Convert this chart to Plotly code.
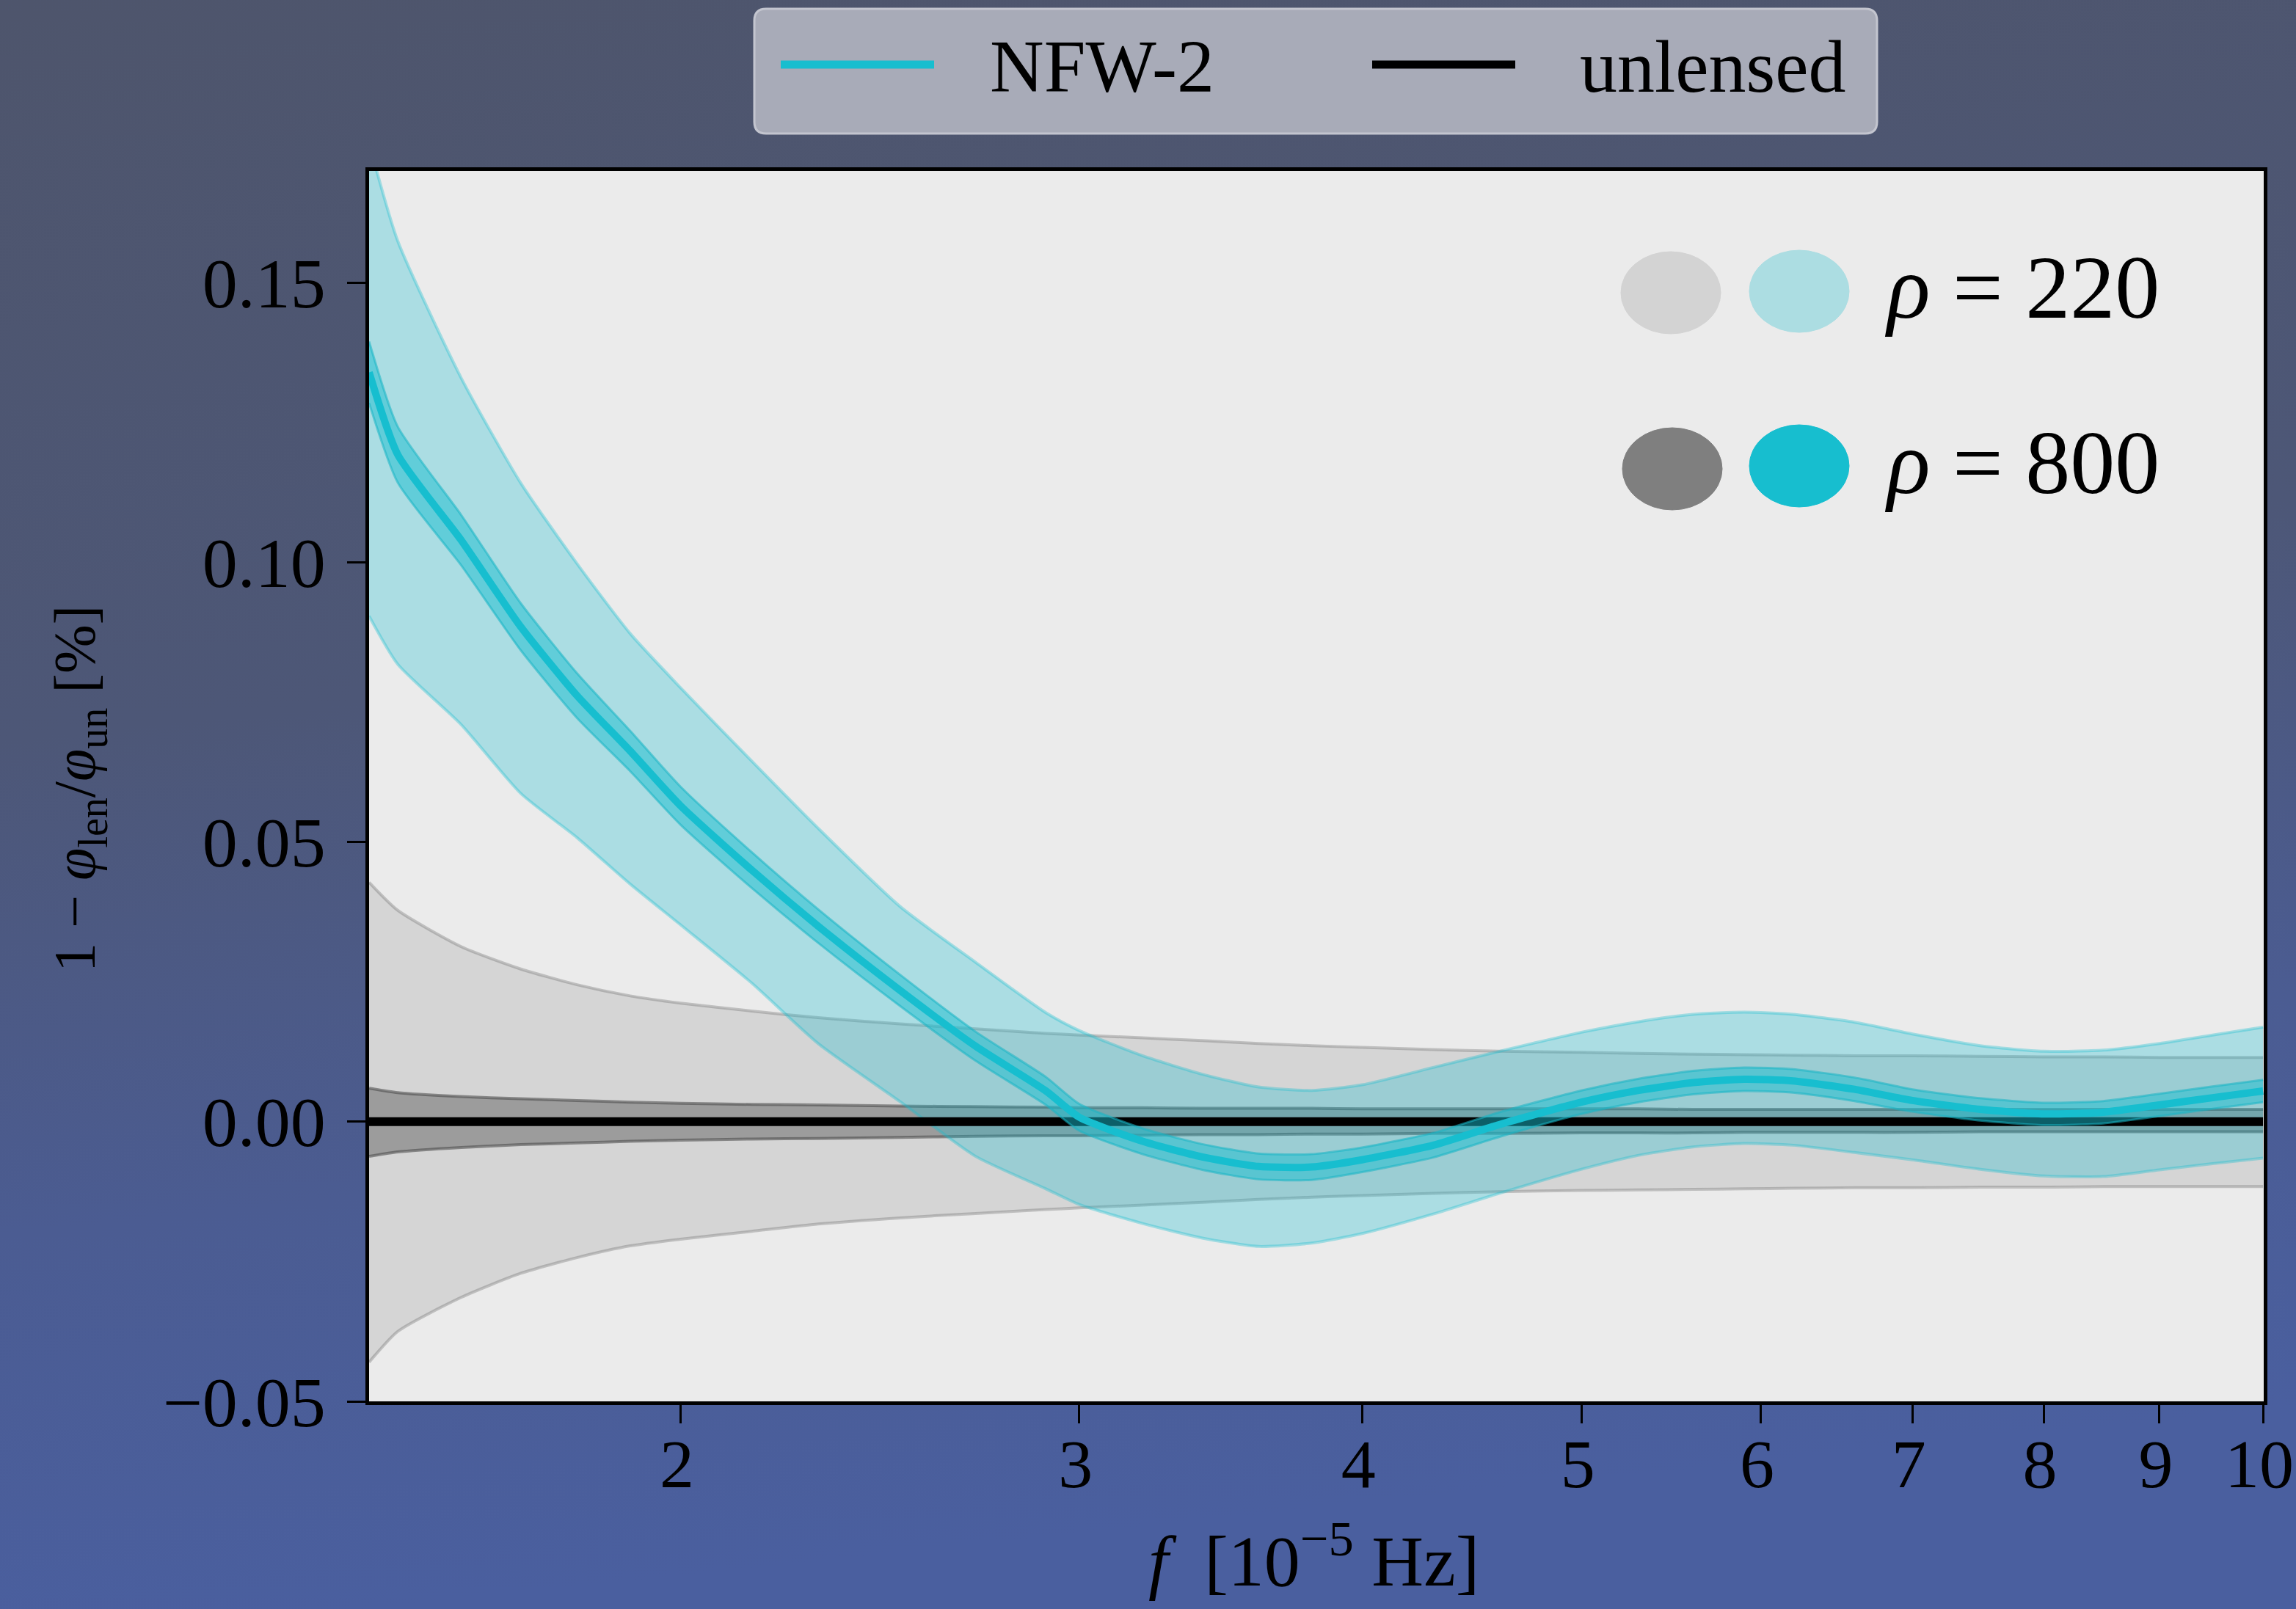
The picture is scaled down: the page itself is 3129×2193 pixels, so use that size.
import base64
import plotly.graph_objects as go

# ---------------- data ----------------
freq = [1.457, 1.5, 1.6, 1.7, 1.8, 1.9, 2.0, 2.15, 2.3, 2.5, 2.7, 2.9, 3.0, 3.2, 3.4, 3.6, 3.8,
        4.0, 4.3, 4.6, 5.0, 5.3, 5.6, 5.9, 6.2, 6.6, 7.0, 7.5, 8.0, 8.5, 9.0, 9.5, 10.0]

nfw_median = [0.1340, 0.1193, 0.1040, 0.0885, 0.0762, 0.0663, 0.0565, 0.0450, 0.0350, 0.0235,
              0.0135, 0.0055, 0.0008, -0.0035, -0.0063, -0.0080, -0.0081, -0.0068, -0.0042,
              -0.0005, 0.0035, 0.0056, 0.0070, 0.0076, 0.0073, 0.0058, 0.0038, 0.0022, 0.0014,
              0.0017, 0.0030, 0.0043, 0.0055]

nfw_800_upper = [0.1395, 0.1243, 0.1085, 0.0927, 0.0802, 0.0699, 0.0599, 0.0482, 0.0380, 0.0263,
                 0.0161, 0.0080, 0.0032, -0.0012, -0.0040, -0.0057, -0.0058, -0.0046, -0.0020,
                 0.0017, 0.0056, 0.0077, 0.0091, 0.0097, 0.0094, 0.0079, 0.0058, 0.0042, 0.0034,
                 0.0037, 0.0050, 0.0063, 0.0075]
nfw_800_lower = [0.1285, 0.1143, 0.0995, 0.0843, 0.0722, 0.0627, 0.0531, 0.0418, 0.0320, 0.0207,
                 0.0109, 0.0030, -0.0016, -0.0058, -0.0086, -0.0103, -0.0104, -0.0090, -0.0064,
                 -0.0027, 0.0014, 0.0035, 0.0049, 0.0055, 0.0052, 0.0037, 0.0018, 0.0002, -0.0006,
                 -0.0003, 0.0010, 0.0023, 0.0035]

nfw_220_upper = [0.1750, 0.1575, 0.1330, 0.1142, 0.0998, 0.0873, 0.0776, 0.0645, 0.0525, 0.0385,
                 0.0285, 0.0195, 0.0163, 0.0118, 0.0085, 0.0062, 0.0056, 0.0066, 0.0097, 0.0126,
                 0.0160, 0.0179, 0.0192, 0.0196, 0.0192, 0.0178, 0.0157, 0.0136, 0.0126, 0.0128,
                 0.0140, 0.0155, 0.0169]
nfw_220_lower = [0.0904, 0.0818, 0.0710, 0.0587, 0.0508, 0.0425, 0.0352, 0.0248, 0.0140, 0.0036,
                 -0.0062, -0.0120, -0.0148, -0.0182, -0.0208, -0.0223, -0.0217, -0.0200, -0.0165,
                 -0.0128, -0.0085, -0.0060, -0.0045, -0.0039, -0.0042, -0.0055, -0.0068, -0.0085,
                 -0.0097, -0.0098, -0.0086, -0.0075, -0.0065]

unl_220_upper = [0.0428, 0.0378, 0.0313, 0.0273, 0.0245, 0.0225, 0.0212, 0.0198, 0.0186, 0.0175,
                 0.0166, 0.0158, 0.0155, 0.0150, 0.0145, 0.0140, 0.0136, 0.0133, 0.0129, 0.0126,
                 0.0124, 0.0122, 0.0121, 0.0120, 0.0119, 0.0118, 0.0118, 0.0117, 0.0116, 0.0116,
                 0.0115, 0.0115, 0.0115]
unl_220_lower = [-0.0430, -0.0375, -0.0314, -0.0271, -0.0243, -0.0222, -0.0210, -0.0196, -0.0183,
                 -0.0172, -0.0164, -0.0157, -0.0154, -0.0149, -0.0144, -0.0139, -0.0135, -0.0132,
                 -0.0128, -0.0125, -0.0123, -0.0122, -0.0121, -0.0120, -0.0119, -0.0118, -0.0118,
                 -0.0117, -0.0117, -0.0116, -0.0116, -0.0116, -0.0116]

unl_800_upper = [0.0060, 0.0052, 0.0045, 0.0041, 0.0038, 0.0035, 0.0033, 0.0031, 0.0030, 0.0028,
                 0.0027, 0.0026, 0.0025, 0.0025, 0.0024, 0.0024, 0.0024, 0.0023, 0.0023, 0.0023,
                 0.0023, 0.0023, 0.0022, 0.0022, 0.0022, 0.0022, 0.0022, 0.0022, 0.0022, 0.0022,
                 0.0022, 0.0022, 0.0022]
unl_800_lower = [-0.0062, -0.0054, -0.0046, -0.0041, -0.0038, -0.0035, -0.0033, -0.0031, -0.0030,
                 -0.0028, -0.0026, -0.0025, -0.0025, -0.0024, -0.0023, -0.0023, -0.0022, -0.0022,
                 -0.0021, -0.0021, -0.0020, -0.0020, -0.0020, -0.0019, -0.0019, -0.0019, -0.0019,
                 -0.0018, -0.0018, -0.0018, -0.0018, -0.0018, -0.0018]

unlensed = [0.0] * len(freq)

x_tick_vals = [2, 3, 4, 5, 6, 7, 8, 9, 10]
x_tick_text = ["2", "3", "4", "5", "6", "7", "8", "9", "10"]
y_tick_vals = [-0.05, 0.0, 0.05, 0.10, 0.15]
y_tick_text = ["\u22120.05", "0.00", "0.05", "0.10", "0.15"]

legend_names = ["NFW-2", "unlensed"]
snr_labels = ["<i>\u03c1</i> = 220", "<i>\u03c1</i> = 800"]

# ---------------- style ----------------
FONT = "Liberation Serif"
CYAN = "#17becf"
W, H = 3129, 2193
ML, MR, MT, MB = 503, 44, 233, 283
PW, PH = W - ML - MR, H - MT - MB


def px_x(px):
    return (px - ML) / PW


def px_y(py):
    return (H - MB - py) / PH


fig = go.Figure()


def band(lower, upper, fill, edge, ew):
    fig.add_trace(go.Scatter(x=freq, y=lower, mode="lines",
                             line=dict(color=edge, width=ew, shape="spline", smoothing=0.6),
                             showlegend=False, hoverinfo="skip"))
    fig.add_trace(go.Scatter(x=freq, y=upper, mode="lines", fill="tonexty", fillcolor=fill,
                             line=dict(color=edge, width=ew, shape="spline", smoothing=0.6),
                             showlegend=False, hoverinfo="skip"))


band(unl_220_lower, unl_220_upper, "rgba(127,127,127,0.2)", "rgba(110,110,110,0.35)", 4)
band(unl_800_lower, unl_800_upper, "rgba(110,110,110,0.55)", "rgba(70,70,70,0.55)", 4)
band(nfw_220_lower, nfw_220_upper, "rgba(23,190,207,0.3)", "rgba(23,190,207,0.35)", 4)
fig.add_trace(go.Scatter(x=freq, y=unlensed, mode="lines", line=dict(color="black", width=12),
                         name=legend_names[1], showlegend=False, hoverinfo="skip"))
band(nfw_800_lower, nfw_800_upper, "rgba(23,190,207,0.5)", "rgba(23,180,196,0.55)", 3)
fig.add_trace(go.Scatter(x=freq, y=nfw_median, mode="lines",
                         line=dict(color=CYAN, width=10, shape="spline", smoothing=0.6),
                         name=legend_names[0], showlegend=False, hoverinfo="skip"))

# ---------------- background gradient ----------------
svg = f'''<svg xmlns="http://www.w3.org/2000/svg" width="{W}" height="{H}">
<defs><linearGradient id="g" x1="0" y1="0" x2="0.15" y2="1">
<stop offset="0" stop-color="#4e556c"/>
<stop offset="0.45" stop-color="#4d5777"/>
<stop offset="0.75" stop-color="#4b5c92"/>
<stop offset="1" stop-color="#4a5f9f"/>
</linearGradient></defs>
<rect width="{W}" height="{H}" fill="url(#g)"/></svg>'''
uri = "data:image/svg+xml;base64," + base64.b64encode(svg.encode()).decode()
fig.add_layout_image(dict(source=uri, xref="paper", yref="paper", x=px_x(-4), y=px_y(-4),
                          sizex=(W + 8) / PW, sizey=(H + 8) / PH, xanchor="left", yanchor="top",
                          sizing="stretch", layer="below"))

shapes = []
# plot-area background (above the gradient image)
shapes.append(dict(type="rect", xref="paper", yref="paper", x0=0, x1=1, y0=0, y1=1,
                   fillcolor="#ebebeb", line=dict(width=0), layer="below"))

# legend box (rounded)
lx0, lx1, ly0, ly1 = px_x(1028), px_x(2558), px_y(182), px_y(12)
rx, ry = 16 / PW, 16 / PH
path = (f"M {lx0+rx},{ly0} L {lx1-rx},{ly0} Q {lx1},{ly0} {lx1},{ly0+ry} L {lx1},{ly1-ry} "
        f"Q {lx1},{ly1} {lx1-rx},{ly1} L {lx0+rx},{ly1} Q {lx0},{ly1} {lx0},{ly1-ry} "
        f"L {lx0},{ly0+ry} Q {lx0},{ly0} {lx0+rx},{ly0} Z")
shapes.append(dict(type="path", path=path, xref="paper", yref="paper", fillcolor="#a8abb8",
                   line=dict(color="#c3c5cf", width=3), layer="above"))
shapes.append(dict(type="line", xref="paper", yref="paper", x0=px_x(1064), x1=px_x(1273),
                   y0=px_y(88), y1=px_y(88), line=dict(color=CYAN, width=11), layer="above"))
shapes.append(dict(type="line", xref="paper", yref="paper", x0=px_x(1870), x1=px_x(2065),
                   y0=px_y(88), y1=px_y(88), line=dict(color="black", width=11), layer="above"))

# rho swatches
blob_specs = [(2277, 399, "#d3d3d3"), (2452, 397, "#acdde2"), (2279, 639, "#7f7f7f"), (2452, 635, CYAN)]
for cx, cy, col in blob_specs:
    shapes.append(dict(type="circle", xref="paper", yref="paper",
                       x0=px_x(cx - 68), x1=px_x(cx + 68), y0=px_y(cy + 56), y1=px_y(cy - 56),
                       fillcolor=col, line=dict(color=col, width=1), layer="above"))

annotations = [
    dict(text=legend_names[0], x=px_x(1347), y=px_y(90), xref="paper", yref="paper",
         xanchor="left", yanchor="middle", showarrow=False, font=dict(size=102, color="black", family=FONT)),
    dict(text=legend_names[1], x=px_x(2151), y=px_y(90), xref="paper", yref="paper",
         xanchor="left", yanchor="middle", showarrow=False, font=dict(size=102, color="black", family=FONT)),
    dict(text=snr_labels[0], x=px_x(2566), y=px_y(392), xref="paper", yref="paper",
         xanchor="left", yanchor="middle", showarrow=False, font=dict(size=122, color="black", family=FONT)),
    dict(text=snr_labels[1], x=px_x(2566), y=px_y(630), xref="paper", yref="paper",
         xanchor="left", yanchor="middle", showarrow=False, font=dict(size=122, color="black", family=FONT)),
    dict(text="1 \u2212 <i>\u03c6</i><sub>len</sub>/<i>\u03c6</i><sub>un</sub> [%]", x=px_x(108), y=px_y(1075),
         xref="paper", yref="paper", xanchor="center", yanchor="middle", textangle=-90, showarrow=False,
         font=dict(size=80, color="black", family=FONT)),
    dict(text="<i>f</i>  [10<sup>\u22125</sup> Hz]", x=px_x(1790), y=px_y(2120), xref="paper", yref="paper",
         xanchor="center", yanchor="middle", showarrow=False, font=dict(size=98, color="black", family=FONT)),
]

fig.update_layout(
    width=W, height=H,
    margin=dict(l=ML, r=MR, t=MT, b=MB, autoexpand=False),
    paper_bgcolor="#4c5677", plot_bgcolor="rgba(0,0,0,0)",
    showlegend=False,
    shapes=shapes, annotations=annotations,
    font=dict(family=FONT, color="black"),
)
fig.update_xaxes(type="log", range=[0.16346, 1.0003], tickvals=x_tick_vals, ticktext=x_tick_text,
                 showgrid=False, zeroline=False, showline=True, linecolor="black", linewidth=5,
                 mirror=True, ticks="outside", ticklen=25, tickwidth=3, tickcolor="black",
                 ticklabeloverflow="allow", ticklabelshift=-5,
                 tickfont=dict(size=94, family=FONT, color="black"), ticklabelstandoff=-26)
fig.update_yaxes(range=[-0.05, 0.17], tickvals=y_tick_vals, ticktext=y_tick_text,
                 showgrid=False, zeroline=False, showline=True, linecolor="black", linewidth=5,
                 mirror=True, ticks="outside", ticklen=25, tickwidth=3, tickcolor="black",
                 tickfont=dict(size=96, family=FONT, color="black"), ticklabelstandoff=10)

fig.write_html("out.html", config={"displayModeBar": False},
               post_script="document.body.style.margin='0';document.body.style.background='#4c5677';")
